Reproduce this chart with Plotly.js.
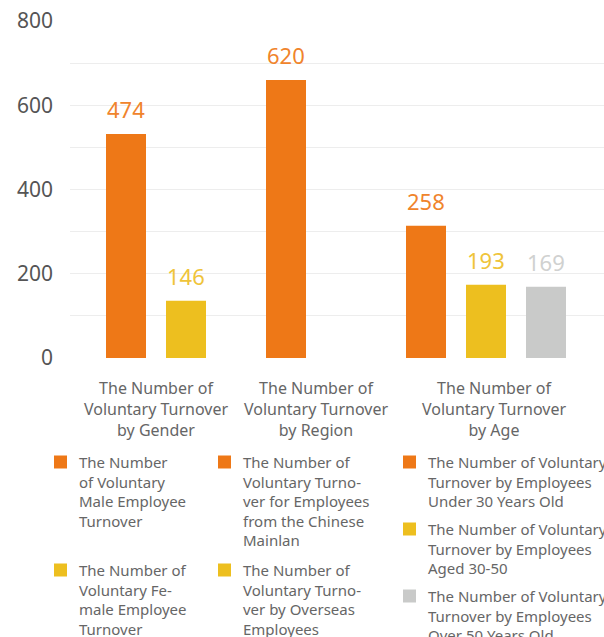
<!DOCTYPE html>
<html><head><meta charset="utf-8">
<script src="https://cdn.plot.ly/plotly-3.0.1.min.js"></script>
<style>html,body{margin:0;padding:0;background:#fff}#chart{width:604px;height:637px}</style>
</head><body><div id="chart"></div>
<script>
// ---- data ----
const categories = [
  'The Number of<br>Voluntary Turnover<br>by Gender',
  'The Number of<br>Voluntary Turnover<br>by Region',
  'The Number of<br>Voluntary Turnover<br>by Age'
];
const genderSeries = [
  'The Number<br>of Voluntary<br>Male Employee<br>Turnover',
  'The Number of<br>Voluntary Fe-<br>male Employee<br>Turnover'
];
const genderValues = [532, 136];
const genderLabels = ['474', '146'];

const regionSeries = [
  'The Number of<br>Voluntary Turno-<br>ver for Employees<br>from the Chinese<br>Mainlan',
  'The Number of<br>Voluntary Turno-<br>ver by Overseas<br>Employees'
];
const regionValues = [660, null];
const regionLabels = ['620', ''];

const ageSeries = [
  'The Number of Voluntary<br>Turnover by Employees<br>Under 30 Years Old',
  'The Number of Voluntary<br>Turnover by Employees<br>Aged 30-50',
  'The Number of Voluntary<br>Turnover by Employees<br>Over 50 Years Old'
];
const ageValues = [314, 174, 169];
const ageLabels = ['258', '193', '169'];

const yTickVals = [0, 200, 400, 600, 800];

// ---- styles / geometry ----
const seriesColors = ['#EE7817', '#EDBF1F', '#C9CAC9'];
const labelColors = ['#F0842C', '#EFC43A', '#D0D1D0'];
const FONT = 'Noto Sans, sans-serif';
const W = 604, H = 637;
const L = 70, R = 604, T = 21, B = 358;
const fx = p => (p - L) / (R - L);
const fy = p => (B - p) / (B - T);
const bounds = [70, 242, 390, 604];
const centres = [156, 316, 486];
const slotPx = 60;

const groups = [
  {names: genderSeries, values: genderValues, labels: genderLabels},
  {names: regionSeries, values: regionValues, labels: regionLabels},
  {names: ageSeries, values: ageValues, labels: ageLabels}
];

const traces = [];
const layout = {
  width: W, height: H,
  margin: {l: L, r: W - R, t: T, b: H - B, pad: 0},
  paper_bgcolor: '#fff', plot_bgcolor: 'rgba(0,0,0,0)',
  font: {family: FONT, color: '#666'},
  barmode: 'group', bargap: 0, bargroupgap: 1/3,
  showlegend: false,
  yaxis: {
    range: [0, 800], tickvals: yTickVals, ticks: '', showline: false,
    gridcolor: '#EDEDED', gridwidth: 1, zeroline: false,
    minor: {dtick: 100, tick0: 0, showgrid: true, gridcolor: '#EDEDED', gridwidth: 1, ticks: ''},
    tickfont: {size: 21, color: '#555', family: FONT},
    ticklabelstandoff: 16, fixedrange: true
  },
  annotations: [], shapes: []
};

const legendCols = [54, 218, 403];
const legendRows = [[462, 570], [462, 570], [462, 529, 596]];

groups.forEach((g, i) => {
  const axName = i === 0 ? 'x' : 'x' + (i + 1);
  const layoutKey = i === 0 ? 'xaxis' : 'xaxis' + (i + 1);
  const n = g.names.length;
  const ppu = n * slotPx;
  layout[layoutKey] = {
    type: 'category', anchor: 'y',
    domain: [fx(bounds[i]), fx(bounds[i + 1])],
    range: [(bounds[i] - centres[i]) / ppu, (bounds[i + 1] - centres[i]) / ppu],
    showgrid: false, zeroline: false, showline: false, ticks: '',
    tickfont: {size: 16, color: '#666', family: FONT},
    ticklabelstandoff: 19,
    fixedrange: true
  };
  if (i === 2) layout[layoutKey].ticklabelshift = 8;
  g.names.forEach((name, j) => {
    traces.push({
      type: 'bar', name: name,
      x: [categories[i]], y: [g.values[j]],
      xaxis: axName, yaxis: 'y',
      marker: {color: seriesColors[j], line: {width: 0}},
      hoverinfo: 'skip'
    });
    if (g.labels[j] !== '' && g.values[j] != null) {
      layout.annotations.push({
        xref: axName, yref: 'y', x: categories[i], y: g.values[j],
        xshift: (j - (n - 1) / 2) * slotPx, yshift: 9,
        xanchor: 'center', yanchor: 'bottom', showarrow: false, borderpad: 0,
        text: g.labels[j], font: {size: 22, color: labelColors[j], family: FONT}
      });
    }
    const cx = legendCols[i], cy = legendRows[i][j];
    layout.shapes.push({
      type: 'rect', xref: 'paper', yref: 'paper',
      x0: fx(cx), x1: fx(cx + 13), y0: fy(cy + 6.5), y1: fy(cy - 6.5),
      fillcolor: seriesColors[j], line: {width: 0}
    });
    layout.annotations.push({
      xref: 'paper', yref: 'paper', x: fx(cx + 24), y: fy(cy - 11.5),
      xanchor: 'left', yanchor: 'top', align: 'left', showarrow: false,
      text: name, font: {size: 15, color: '#666', family: FONT}, borderpad: 0
    });
  });
});

Plotly.newPlot('chart', traces, layout, {staticPlot: true, displayModeBar: false});
</script></body></html>
